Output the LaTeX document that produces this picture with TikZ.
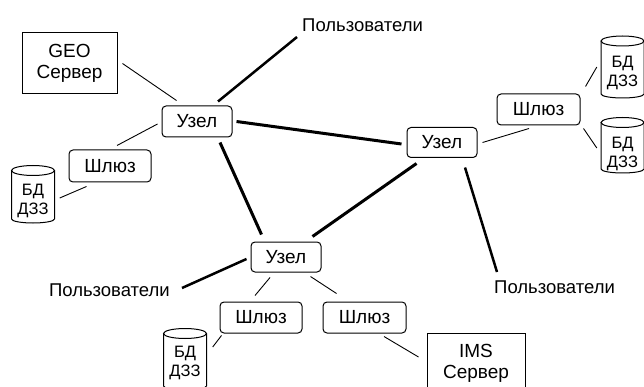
\documentclass[tikz,border=0pt]{standalone}
\usepackage{fontspec}
\setmainfont{Liberation Sans}
\begin{document}
\begin{tikzpicture}[x=1pt,y=1pt,
  box/.style={draw, line width=1pt, inner sep=0pt, align=center,
    font=\fontsize{19}{20.5}\selectfont},
  rbox/.style={box, rounded corners=4pt, minimum width=#1, minimum height=31},
  sqbox/.style={box, minimum width=95, minimum height=61},
  usertext/.style={inner sep=0pt, font=\fontsize{18.5}{20}\selectfont},
  dbtext/.style={inner sep=0pt, align=center, minimum width=43,
    font=\fontsize{16.5}{19}\selectfont},
  cylline/.style={line width=1pt},
  thin/.style={line width=0.9pt},
  thick/.style={line width=3pt},
  uline/.style={line width=2.5pt}]
\newcommand\dbcyl[3]{%
  \draw[cylline] ([yshift=#2]#1.center) ellipse [x radius=21.5, y radius=5];
  \draw[cylline] ([shift={(-21.5,#2)}]#1.center) -- ([shift={(-21.5,-#3)}]#1.center)
    arc [start angle=180, end angle=360, x radius=21.5, y radius=4]
    -- ([shift={(21.5,#2)}]#1.center);}
\useasboundingbox (0,0) rectangle (644,-387);
\clip (0,0) rectangle (644,-387);

% nodes
\node[rbox=70] (u1) at (197,-121.5) {Узел};
\node[rbox=70, minimum height=30] (u2) at (442,-142.5) {Узел};
\node[rbox=70, minimum height=30] (u3) at (286,-257) {Узел};
\node[rbox=82, minimum height=32] (g1) at (110,-166) {Шлюз};
\node[rbox=83] (g2) at (538.5,-109.5) {Шлюз};
\node[rbox=82] (g3) at (261,-317.5) {Шлюз};
\node[rbox=83] (g4) at (364.5,-317.5) {Шлюз};
\node[sqbox] (geo) at (69.5,-63.5) {GEO\\Сервер};
\node[sqbox, minimum width=98] (ims) at (476,-363.5) {IMS\\Сервер};
\node[usertext, anchor=base west] (ut) at (302,-32) {Пользователи};
\node[usertext, anchor=base east] (ul) at (170,-296) {Пользователи};
\node[usertext, anchor=base west] (ur) at (494,-293) {Пользователи};
\node[dbtext] (db1) at (33,-200.5) {БД\\ДЗЗ};
\node[dbtext] (db2) at (622.5,-72.5) {БД\\ДЗЗ};
\node[dbtext] (db3) at (622.5,-154) {БД\\ДЗЗ};
\node[dbtext] (db4) at (185,-363) {БД\\ДЗЗ};
\dbcyl{db1}{30}{18.5}
\dbcyl{db2}{31.5}{21.5}
\dbcyl{db3}{31.5}{15}
\dbcyl{db4}{29.5}{23}

% connectors
\draw[uline] ([shift={(21,4)}]u1.north) -- ([shift={(-5,-5)}]ut.base west);
\draw[thin] ([xshift=5]geo.east) -- ([shift={(15,5)}]u1.north west);
\draw[thin] ([shift={(-4,-2.5)}]u1.west) -- ([shift={(7,4)}]g1.north);
\draw[thin] ([shift={(18,-4)}]g1.south west) -- ([shift={(5,2.5)}]db1.east);
\draw[thick] ([xshift=4]u1.east) -- ([shift={(-5,-1.5)}]u2.west);
\draw[thin] ([xshift=5]u2.east) -- ([shift={(-9.5,-3)}]g2.south);
\draw[thin] ([shift={(5,7)}]g2.north east) -- ([shift={(-4,5.5)}]db2.west);
\draw[thin] ([shift={(3,-3)}]g2.south east) -- ([shift={(-4,6)}]db3.west);
\draw[thick] ([shift={(23,-5)}]u1.south) -- ([shift={(11,7)}]u3.north west);
\draw[thick] ([shift={(10,-5.5)}]u2.south west) -- ([shift={(-9,5)}]u3.north east);
\draw[uline] ([shift={(23,-9.5)}]u2.south) -- ([shift={(3,21)}]ur.base west);
\draw[uline] ([shift={(-4,-2)}]u3.west) -- ([shift={(12,8)}]ul.base east);
\draw[thin] ([shift={(-16,-5)}]u3.south) -- ([shift={(-6,6)}]g3.north);
\draw[thin] ([shift={(-11,-4)}]u3.south east) -- ([shift={(14,8)}]g4.north west);
\draw[thin] ([shift={(2,-2)}]g3.south west) -- ([shift={(6,16)}]db4.east);
\draw[thin] ([shift={(19.5,-3)}]g4.south) -- ([shift={(-8,6.5)}]ims.west);
\end{tikzpicture}
\end{document}
